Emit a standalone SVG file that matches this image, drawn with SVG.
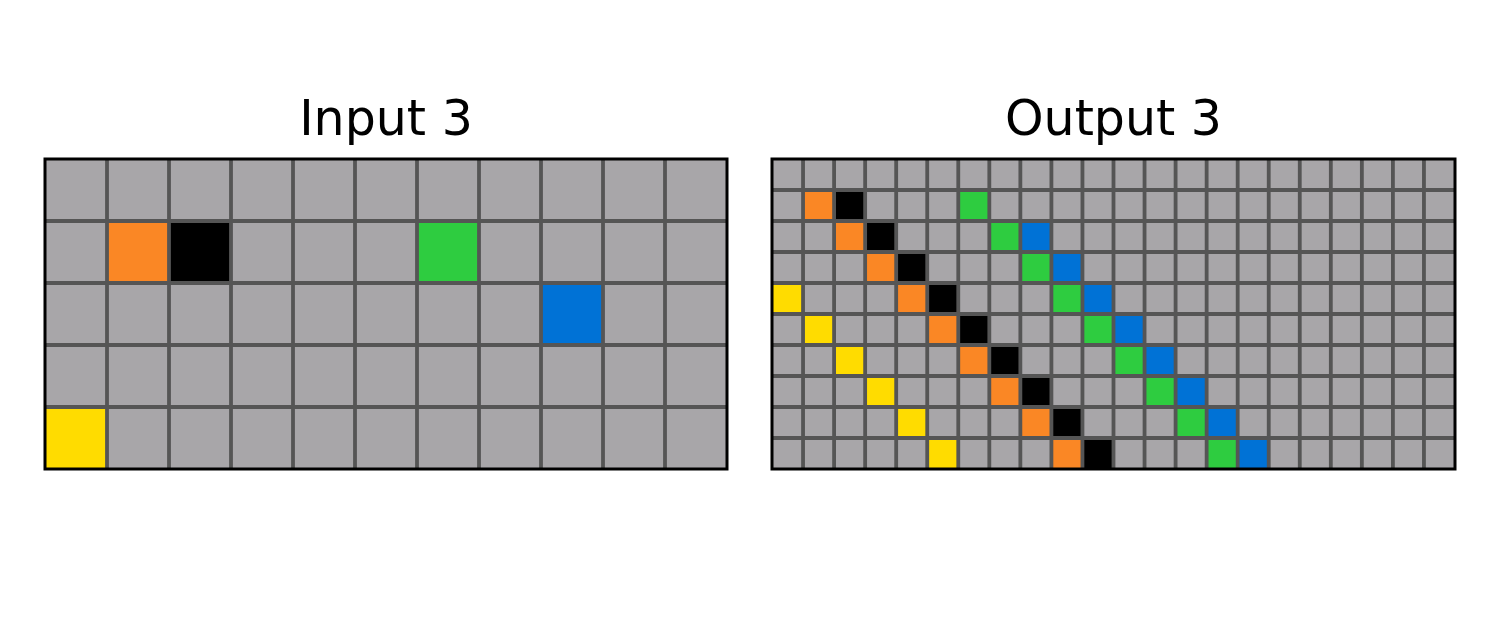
<svg xmlns="http://www.w3.org/2000/svg" width="1500" height="629" viewBox="0 0 1500 629">
<style>
.t{font-family:"DejaVu Sans",sans-serif;font-size:49px;fill:#000;text-anchor:middle}
.bg{fill:#A8A6A9}
.o{fill:#FA8725}.k{fill:#000}.g{fill:#2ECC40}.b{fill:#0072D6}.y{fill:#FFDC00}
.gl{stroke:#555555;stroke-width:3.8;fill:none}
.bd{stroke:#000;stroke-width:3;fill:none}
</style>
<rect width="1500" height="629" fill="#fff"/>
<g id="input">
<text class="t" x="386" y="134.5">Input 3</text>
<rect class="bg" x="45" y="159" width="682" height="310"/>
<rect class="o" x="107" y="221" width="62" height="62"/>
<rect class="k" x="169" y="221" width="62" height="62"/>
<rect class="g" x="417" y="221" width="62" height="62"/>
<rect class="b" x="541" y="283" width="62" height="62"/>
<rect class="y" x="45" y="407" width="62" height="62"/>
<path class="gl" d="M107 159V469M169 159V469M231 159V469M293 159V469M355 159V469M417 159V469M479 159V469M541 159V469M603 159V469M665 159V469M45 221H727M45 283H727M45 345H727M45 407H727"/>
<rect class="bd" x="45" y="159" width="682" height="310"/>
</g>
<g id="output">
<text class="t" x="1113.5" y="134.5">Output 3</text>
<rect class="bg" x="772" y="159" width="683" height="310"/>
<g transform="translate(772 159) scale(31.045 31)">
<rect class="o" x="1" y="1" width="1" height="1"/><rect class="k" x="2" y="1" width="1" height="1"/><rect class="g" x="6" y="1" width="1" height="1"/>
<rect class="o" x="2" y="2" width="1" height="1"/><rect class="k" x="3" y="2" width="1" height="1"/><rect class="g" x="7" y="2" width="1" height="1"/><rect class="b" x="8" y="2" width="1" height="1"/>
<rect class="o" x="3" y="3" width="1" height="1"/><rect class="k" x="4" y="3" width="1" height="1"/><rect class="g" x="8" y="3" width="1" height="1"/><rect class="b" x="9" y="3" width="1" height="1"/>
<rect class="y" x="0" y="4" width="1" height="1"/><rect class="o" x="4" y="4" width="1" height="1"/><rect class="k" x="5" y="4" width="1" height="1"/><rect class="g" x="9" y="4" width="1" height="1"/><rect class="b" x="10" y="4" width="1" height="1"/>
<rect class="y" x="1" y="5" width="1" height="1"/><rect class="o" x="5" y="5" width="1" height="1"/><rect class="k" x="6" y="5" width="1" height="1"/><rect class="g" x="10" y="5" width="1" height="1"/><rect class="b" x="11" y="5" width="1" height="1"/>
<rect class="y" x="2" y="6" width="1" height="1"/><rect class="o" x="6" y="6" width="1" height="1"/><rect class="k" x="7" y="6" width="1" height="1"/><rect class="g" x="11" y="6" width="1" height="1"/><rect class="b" x="12" y="6" width="1" height="1"/>
<rect class="y" x="3" y="7" width="1" height="1"/><rect class="o" x="7" y="7" width="1" height="1"/><rect class="k" x="8" y="7" width="1" height="1"/><rect class="g" x="12" y="7" width="1" height="1"/><rect class="b" x="13" y="7" width="1" height="1"/>
<rect class="y" x="4" y="8" width="1" height="1"/><rect class="o" x="8" y="8" width="1" height="1"/><rect class="k" x="9" y="8" width="1" height="1"/><rect class="g" x="13" y="8" width="1" height="1"/><rect class="b" x="14" y="8" width="1" height="1"/>
<rect class="y" x="5" y="9" width="1" height="1"/><rect class="o" x="9" y="9" width="1" height="1"/><rect class="k" x="10" y="9" width="1" height="1"/><rect class="g" x="14" y="9" width="1" height="1"/><rect class="b" x="15" y="9" width="1" height="1"/>
</g>
<path class="gl" d="M803.05 159V469M834.09 159V469M865.14 159V469M896.18 159V469M927.23 159V469M958.27 159V469M989.32 159V469M1020.36 159V469M1051.41 159V469M1082.45 159V469M1113.5 159V469M1144.55 159V469M1175.59 159V469M1206.64 159V469M1237.68 159V469M1268.73 159V469M1299.77 159V469M1330.82 159V469M1361.86 159V469M1392.91 159V469M1423.95 159V469M772 190H1455M772 221H1455M772 252H1455M772 283H1455M772 314H1455M772 345H1455M772 376H1455M772 407H1455M772 438H1455"/>
<rect class="bd" x="772" y="159" width="683" height="310"/>
</g>
</svg>
